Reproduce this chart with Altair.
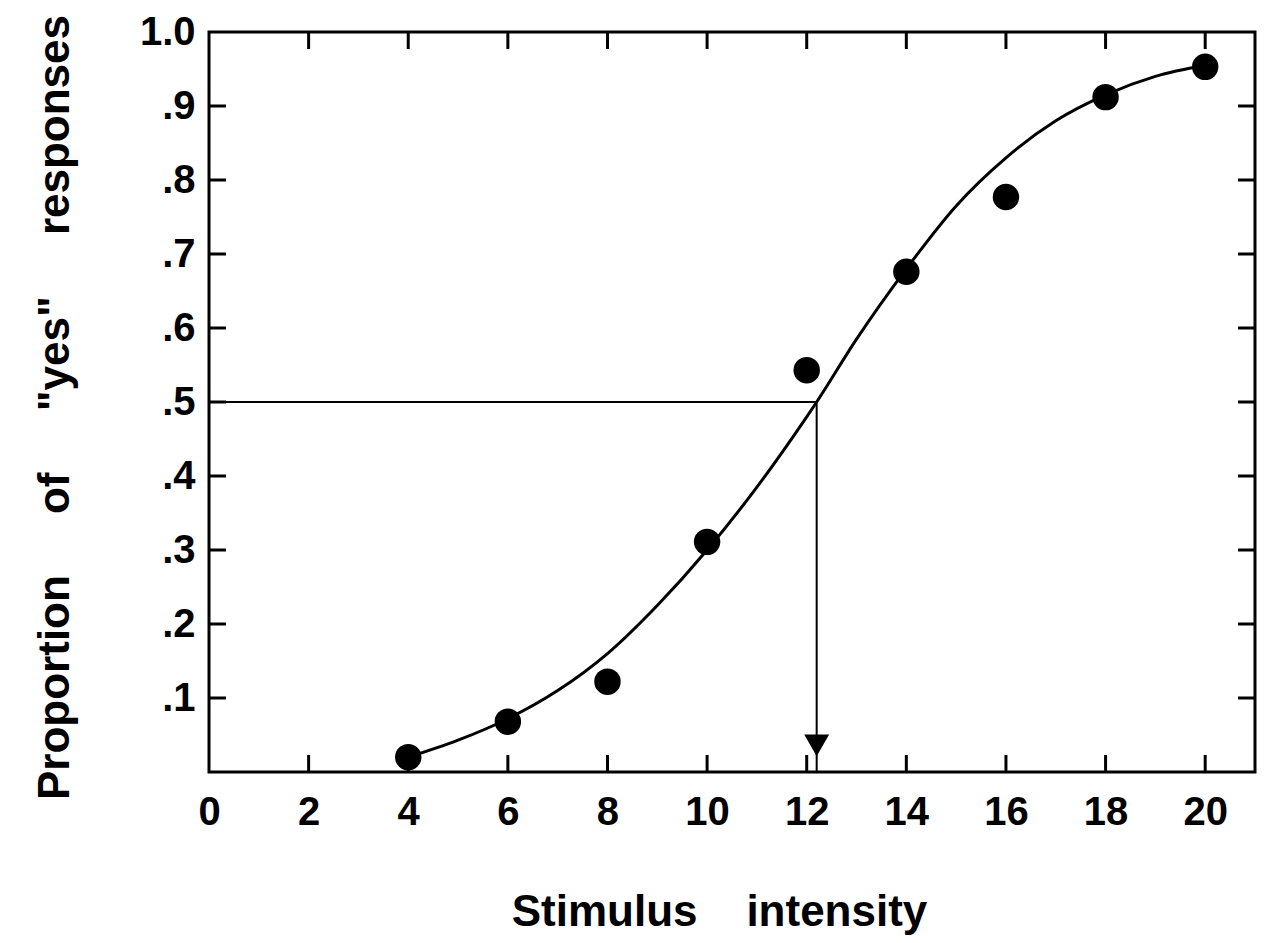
import altair as alt
import pandas as pd

# data
stim = [4, 6, 8, 10, 12, 14, 16, 18, 20]
prop = [0.02, 0.068, 0.122, 0.311, 0.543, 0.676, 0.777, 0.912, 0.953]

curve_x = [4, 5, 6, 7, 8, 9, 10, 11, 12, 12.2, 13, 14, 15, 16, 17, 18, 19, 20]
curve_y = [0.02, 0.043, 0.072, 0.11, 0.16, 0.225, 0.30, 0.385, 0.48, 0.50,
           0.585, 0.68, 0.765, 0.83, 0.88, 0.915, 0.94, 0.955]

x_ticks = [0, 2, 4, 6, 8, 10, 12, 14, 16, 18, 20]
y_ticks = [0.1, 0.2, 0.3, 0.4, 0.5, 0.6, 0.7, 0.8, 0.9, 1.0]

threshold_x = 12.2
threshold_y = 0.5
arrow_y = 0.036

W, H = 1046, 740
TICK = 17
FONT = "Liberation Sans"
GAP_X = "\u00a0" * 4
GAP_Y = "\u00a0" * 5

xs = alt.Scale(domain=[0, 21], nice=False, zero=False)
ys = alt.Scale(domain=[0, 1], nice=False, zero=False)

pts = pd.DataFrame({"x": stim, "y": prop})
crv = pd.DataFrame({"x": curve_x, "y": curve_y})

x_axis = alt.Axis(values=x_ticks, format="d", ticks=False, domain=False, grid=False,
                  labelFont=FONT, labelFontSize=40, labelFontWeight="bold",
                  labelColor="black", labelPadding=20, labelFlush=False,
                  title="Stimulus" + GAP_X + "intensity", titleFont=FONT,
                  titleFontSize=44, titleFontWeight="bold", titleColor="black",
                  titleX=510, titleY=140, titleBaseline="middle", titleAlign="center")
y_axis = alt.Axis(values=y_ticks, ticks=False, domain=False, grid=False,
                  labelExpr="datum.value >= 0.999 ? '1.0' : '.' + round(datum.value*10)",
                  labelFont=FONT, labelFontSize=40, labelFontWeight="bold",
                  labelColor="black", labelPadding=14,
                  title="Proportion" + GAP_Y + "of" + GAP_Y + "\"yes\"" + GAP_Y + "responses",
                  titleFont=FONT, titleFontSize=44, titleFontWeight="bold",
                  titleColor="black", titleAngle=-90, titleX=-154, titleY=375,
                  titleAlign="center", titleBaseline="middle")


def X(field):
    return alt.X(field, scale=xs, axis=x_axis)


def Y(field):
    return alt.Y(field, scale=ys, axis=y_axis)


points = alt.Chart(pts).mark_circle(size=700, color="black", opacity=1).encode(
    x=X("x:Q"), y=Y("y:Q"))

curve = alt.Chart(crv).mark_line(color="black", strokeWidth=3, interpolate="monotone").encode(
    x=X("x:Q"), y=Y("y:Q"))

guide = pd.DataFrame({"x0": [0], "x1": [threshold_x], "y": [threshold_y], "y0": [0]})
hline = alt.Chart(guide).mark_rule(color="black", strokeWidth=2).encode(
    x=X("x0:Q"), x2="x1:Q", y=Y("y:Q"))
vline = alt.Chart(guide).mark_rule(color="black", strokeWidth=2).encode(
    x=X("x1:Q"), y=Y("y:Q"), y2="y0:Q")
arrow = alt.Chart(pd.DataFrame({"x": [threshold_x], "y": [arrow_y]})).mark_point(
    shape="triangle-down", filled=True, size=620, color="black", opacity=1
).encode(x=X("x:Q"), y=Y("y:Q"))

xt = pd.DataFrame({"t": x_ticks[1:]})
yt = pd.DataFrame({"t": y_ticks[:-1]})
bottom_ticks = alt.Chart(xt).mark_rule(color="black", strokeWidth=3).encode(
    x=X("t:Q"), y=alt.value(H), y2=alt.value(H - TICK))
top_ticks = alt.Chart(xt).mark_rule(color="black", strokeWidth=3).encode(
    x=X("t:Q"), y=alt.value(0), y2=alt.value(TICK))
left_ticks = alt.Chart(yt).mark_rule(color="black", strokeWidth=3).encode(
    y=Y("t:Q"), x=alt.value(0), x2=alt.value(TICK))
right_ticks = alt.Chart(yt).mark_rule(color="black", strokeWidth=3).encode(
    y=Y("t:Q"), x=alt.value(W), x2=alt.value(W - TICK))

chart = alt.layer(
    points, curve, hline, vline, arrow,
    bottom_ticks, top_ticks, left_ticks, right_ticks,
).properties(
    width=W, height=H,
    autosize=alt.AutoSizeParams(type="none"),
    padding={"left": 201, "top": 24, "right": 5, "bottom": 168},
    background="white",
).configure_view(
    stroke="black", strokeWidth=3
)

chart.save("out.html", embed_options={"renderer": "svg", "actions": False})
